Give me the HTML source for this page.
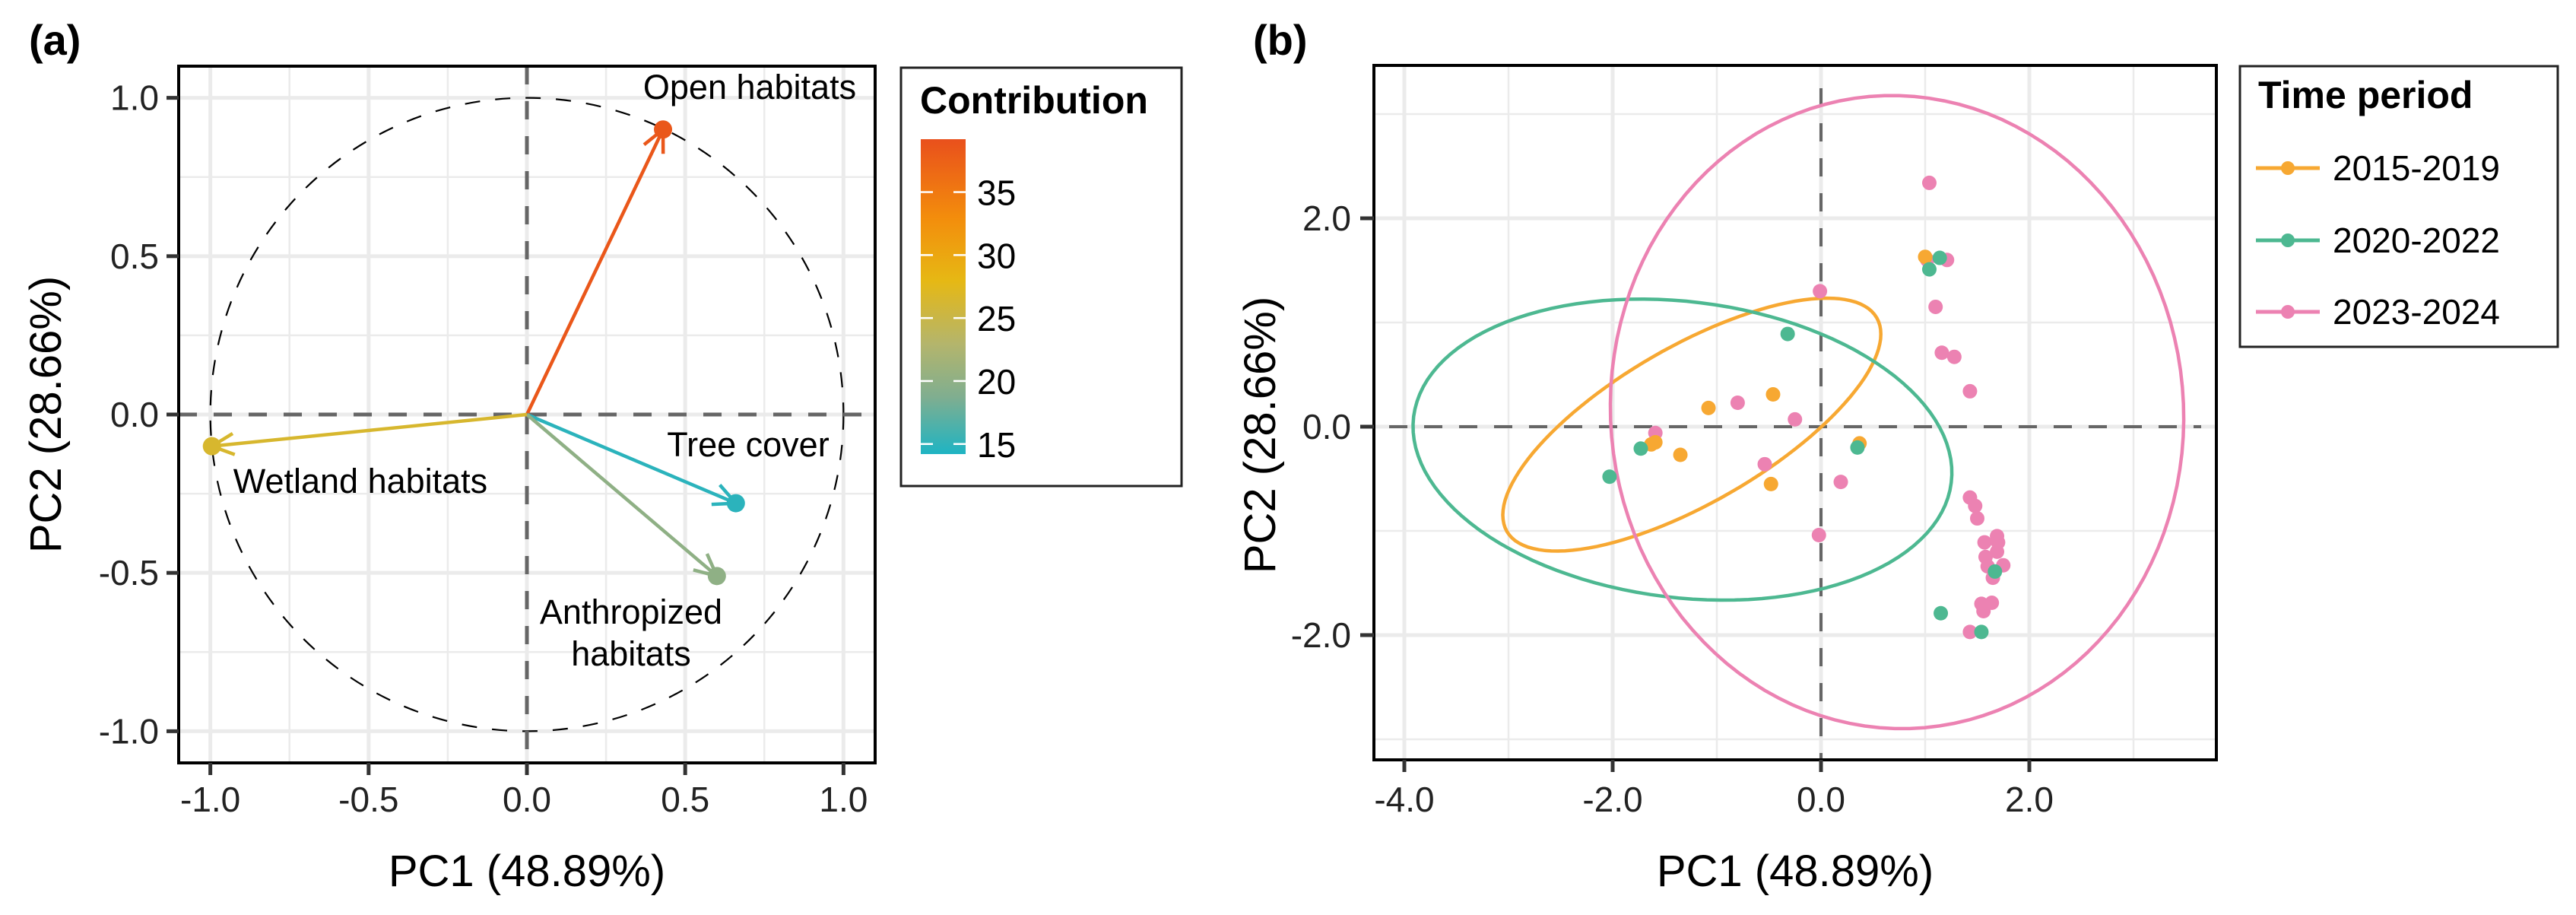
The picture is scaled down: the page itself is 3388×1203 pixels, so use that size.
<!DOCTYPE html>
<html><head><meta charset="utf-8"><style>
html,body{margin:0;padding:0;background:#fff;}
svg{display:block;font-family:"Liberation Sans",Arial,sans-serif;}
</style></head><body>
<svg id="fig" width="3388" height="1203" viewBox="0 0 3388 1203" xmlns="http://www.w3.org/2000/svg">
<defs>
<linearGradient id="contribGrad" x1="0" y1="1" x2="0" y2="0">
<stop offset="0" stop-color="#1EB4C3"/>
<stop offset="0.18" stop-color="#7FAE90"/>
<stop offset="0.35" stop-color="#B4B56C"/>
<stop offset="0.55" stop-color="#E6B814"/>
<stop offset="0.75" stop-color="#F38D0C"/>
<stop offset="1" stop-color="#E9501C"/>
</linearGradient>
<clipPath id="clipA"><rect x="235" y="87" width="916" height="916"/></clipPath>
<clipPath id="clipB"><rect x="1807" y="86" width="1108" height="913"/></clipPath>
</defs>
<g id="panelA"></g>
<g id="panelB"></g>
</svg>
<script>
// ---------- Panel A data ----------
const varNames = ["Open habitats", "Tree cover", "Anthropized habitats", "Wetland habitats"];
const varPC1 = [0.43, 0.66, 0.60, -0.995];
const varPC2 = [0.90, -0.28, -0.51, -0.10];
const varContrib = [38.5, 14.8, 20.0, 26.5];
const aTicks = [-1.0, -0.5, 0.0, 0.5, 1.0];
const aTickLabels = ["-1.0", "-0.5", "0.0", "0.5", "1.0"];
const contribTicks = [15, 20, 25, 30, 35];

// ---------- Panel B data ----------
const groups = ["2015-2019", "2020-2022", "2023-2024"];
const groupColors = ["#F7A832", "#4DB891", "#EC82B2"];
const orangeX = [1.00, -1.08, -0.46, -1.59, -1.63, -1.35, -0.48, 0.37];
const orangeY = [1.63, 0.18, 0.31, -0.15, -0.17, -0.27, -0.55, -0.16];
const greenX = [1.14, 1.04, -0.32, -1.73, -2.03, 0.35, 1.67, 1.15, 1.54];
const greenY = [1.62, 1.51, 0.89, -0.21, -0.48, -0.20, -1.39, -1.79, -1.97];
const pinkX = [1.04, 1.02, 1.21, -0.01, 1.10, 1.16, 1.28, 1.43, -0.80, -0.25, -1.59, -0.54, 0.19, -0.02, 1.43, 1.48, 1.50, 1.57, 1.69, 1.70, 1.58, 1.69, 1.75, 1.60, 1.65, 1.54, 1.64, 1.56, 1.43];
const pinkY = [2.34, 1.60, 1.60, 1.30, 1.15, 0.71, 0.67, 0.34, 0.23, 0.07, -0.06, -0.36, -0.53, -1.04, -0.68, -0.76, -0.88, -1.11, -1.05, -1.11, -1.25, -1.20, -1.33, -1.34, -1.45, -1.70, -1.69, -1.77, -1.97];
// ellipse params: center x, center y, semi-major, semi-minor, angle (deg)
const ellCX = [-1.24, -1.33, 0.73];
const ellCY = [0.02, -0.22, 0.14];
const ellA = [2.05, 2.60, 3.04];
const ellB = [0.75, 1.42, 2.75];
const ellAng = [30, -7, 95];
const bXTicks = [-4, -2, 0, 2];
const bXTickLabels = ["-4.0", "-2.0", "0.0", "2.0"];
const bYTicks = [-2, 0, 2];
const bYTickLabels = ["-2.0", "0.0", "2.0"];

const NS = "http://www.w3.org/2000/svg";
function mk(parent, tag, attrs, text) {
  const e = document.createElementNS(NS, tag);
  for (const k in attrs) e.setAttribute(k, attrs[k]);
  if (text !== undefined) e.textContent = text;
  parent.appendChild(e);
  return e;
}

// ---------- PANEL A ----------
(function () {
  const g = document.getElementById("panelA");
  const L = 235, R = 1151, T = 87, B = 1003;
  const xMin = -1.1, xMax = 1.1, yMin = -1.1, yMax = 1.1;
  const sx = v => L + (v - xMin) / (xMax - xMin) * (R - L);
  const sy = v => B - (v - yMin) / (yMax - yMin) * (B - T);

  const lbl = mk(g, "text", {x: 38, y: 72, "font-size": 56, "font-weight": "bold"}, "(a)");
  
  

  const grid = mk(g, "g", {});
  
  
  for (let v = -1.0; v <= 1.001; v += 0.25) {
    const major = Math.abs(v * 2 - Math.round(v * 2)) < 1e-6;
    const w = major ? 5 : 2.5;
    mk(grid, "line", {x1: sx(v), x2: sx(v), y1: T, y2: B, stroke: "#EBEBEB", "stroke-width": w});
    mk(grid, "line", {x1: L, x2: R, y1: sy(v), y2: sy(v), stroke: "#EBEBEB", "stroke-width": w});
  }
  const cg = mk(g, "g", {"clip-path": "url(#clipA)"});
  const circ = mk(cg, "ellipse", {cx: sx(0), cy: sy(0), rx: sx(1) - sx(0), ry: sy(0) - sy(1), fill: "none", stroke: "#000", "stroke-width": 2.2, "stroke-dasharray": "20 20"});
  
  
  mk(cg, "line", {x1: sx(0), x2: sx(0), y1: T, y2: B, stroke: "#666", "stroke-width": 5, "stroke-dasharray": "24 22"});
  mk(cg, "line", {x1: L, x2: R, y1: sy(0), y2: sy(0), stroke: "#666", "stroke-width": 5, "stroke-dasharray": "24 22"});

  const cMin = 14.2, cMax = 39.2;
  const stops = [[0, [30,180,195]], [0.18, [127,174,144]], [0.35, [180,181,108]], [0.55, [230,184,20]], [0.75, [243,141,12]], [1, [233,80,28]]];
  function colorFor(c) {
    const t = Math.max(0, Math.min(1, (c - cMin) / (cMax - cMin)));
    for (let i = 1; i < stops.length; i++) {
      if (t <= stops[i][0]) {
        const f = (t - stops[i-1][0]) / (stops[i][0] - stops[i-1][0]);
        const a = stops[i-1][1], b = stops[i][1];
        return "rgb(" + a.map((v, k) => Math.round(v + (b[k] - v) * f)).join(",") + ")";
      }
    }
    return "rgb(233,80,28)";
  }
  for (let i = 0; i < varNames.length; i++) {
    const col = colorFor(varContrib[i]);
    const ag = mk(cg, "g", {});
    
    
    const x0 = sx(0), y0 = sy(0), x1 = sx(varPC1[i]), y1 = sy(varPC2[i]);
    mk(ag, "line", {x1: x0, y1: y0, x2: x1, y2: y1, stroke: col, "stroke-width": 4.5});
    const ang = Math.atan2(y1 - y0, x1 - x0);
    [0.45, -0.45].forEach(d => {
      mk(ag, "line", {x1: x1, y1: y1, x2: x1 - 32 * Math.cos(ang + d), y2: y1 - 32 * Math.sin(ang + d), stroke: col, "stroke-width": 4.5});
    });
    mk(ag, "circle", {cx: x1, cy: y1, r: 12, fill: col});
  }
  const labs = [["Open habitats", 986, 130], ["Tree cover", 984, 600], ["Wetland habitats", 474, 648]];
  labs.forEach(l => {
    const t = mk(g, "text", {x: l[1], y: l[2], "font-size": 45, "text-anchor": "middle", fill: "#000"}, l[0]);
    
    
  });
  const an = mk(g, "text", {x: 830, y: 820, "font-size": 45, "text-anchor": "middle"}, "Anthropized");
  
  
  const an2 = mk(g, "text", {x: 830, y: 875, "font-size": 45, "text-anchor": "middle"}, "habitats");
  
  

  const border = mk(g, "rect", {x: L, y: T, width: R - L, height: B - T, fill: "none", stroke: "#000", "stroke-width": 4});
  
  

  aTicks.forEach((v, i) => {
    mk(g, "line", {x1: sx(v), x2: sx(v), y1: B, y2: B + 16, stroke: "#333", "stroke-width": 5});
    const tx = mk(g, "text", {x: sx(v), y: B + 64, "font-size": 46, "text-anchor": "middle", fill: "#222"}, aTickLabels[i]);
    
    
    mk(g, "line", {x1: L - 16, x2: L, y1: sy(v), y2: sy(v), stroke: "#333", "stroke-width": 5});
    const ty = mk(g, "text", {x: L - 26, y: sy(v) + 16, "font-size": 46, "text-anchor": "end", fill: "#222"}, aTickLabels[i]);
    
    
  });
  const xt = mk(g, "text", {x: (L + R) / 2, y: 1165, "font-size": 58, "text-anchor": "middle"}, "PC1 (48.89%)");
  
  
  const yt = mk(g, "text", {x: 0, y: 0, "font-size": 58, "text-anchor": "middle", transform: "translate(80," + ((T + B) / 2) + ") rotate(-90)"}, "PC2 (28.66%)");
  
  

  // legend
  const lg = mk(g, "g", {});
  
  
  mk(lg, "rect", {x: 1185, y: 89, width: 369, height: 550, fill: "#fff", stroke: "#222", "stroke-width": 3});
  mk(lg, "text", {x: 1210, y: 149, "font-size": 50, "font-weight": "bold"}, "Contribution");
  const cbT = 183, cbB = 597;
  const cy = c => cbB - (c - cMin) / (cMax - cMin) * (cbB - cbT);
  const bar = mk(lg, "rect", {x: 1211, y: cbT, width: 59, height: cbB - cbT, fill: "url(#contribGrad)"});
  
  
  contribTicks.forEach(c => {
    mk(lg, "line", {x1: 1254, x2: 1270, y1: cy(c), y2: cy(c), stroke: "#fff", "stroke-width": 2.5});
    mk(lg, "line", {x1: 1211, x2: 1227, y1: cy(c), y2: cy(c), stroke: "#fff", "stroke-width": 2.5});
    mk(lg, "text", {x: 1285, y: cy(c) + 17, "font-size": 46}, String(c));
  });
})();

// ---------- PANEL B ----------
(function () {
  const g = document.getElementById("panelB");
  const L = 1807, R = 2915, T = 86, B = 999;
  const ppu = 137, x0 = 2395, y0 = 561;
  const sx = v => x0 + v * ppu;
  const sy = v => y0 - v * ppu;

  const lbl = mk(g, "text", {x: 1648, y: 72, "font-size": 56, "font-weight": "bold"}, "(b)");
  
  

  const grid = mk(g, "g", {"clip-path": "url(#clipB)"});
  
  
  for (let v = -5; v <= 4; v++) {
    const w = (v % 2 === 0) ? 5 : 2.5;
    mk(grid, "line", {x1: sx(v), x2: sx(v), y1: T, y2: B, stroke: "#EBEBEB", "stroke-width": w});
    mk(grid, "line", {x1: L, x2: R, y1: sy(v), y2: sy(v), stroke: "#EBEBEB", "stroke-width": w});
  }
  const cg = mk(g, "g", {"clip-path": "url(#clipB)"});
  mk(cg, "line", {x1: sx(0), x2: sx(0), y1: T + 30, y2: B, stroke: "#666", "stroke-width": 4, "stroke-dasharray": "24 22"});
  mk(cg, "line", {x1: L + 20, x2: R - 20, y1: sy(0), y2: sy(0), stroke: "#666", "stroke-width": 4, "stroke-dasharray": "24 22"});

  for (let k = 0; k < groups.length; k++) {
    const th = ellAng[k] * Math.PI / 180;
    let d = "";
    for (let i = 0; i <= 120; i++) {
      const t = i / 120 * 2 * Math.PI;
      const ex = ellCX[k] + ellA[k] * Math.cos(t) * Math.cos(th) - ellB[k] * Math.sin(t) * Math.sin(th);
      const ey = ellCY[k] + ellA[k] * Math.cos(t) * Math.sin(th) + ellB[k] * Math.sin(t) * Math.cos(th);
      d += (i ? "L" : "M") + sx(ex).toFixed(1) + "," + sy(ey).toFixed(1);
    }
    const p = mk(cg, "path", {d: d + "Z", fill: "none", stroke: groupColors[k], "stroke-width": 4.5});
    
    
  }
  const series = [[orangeX, orangeY], [greenX, greenY], [pinkX, pinkY]];
  const drawOrder = [2, 0, 1];
  drawOrder.forEach(k => {
    const sg = mk(cg, "g", {});
    
    
    series[k][0].forEach((xv, i) => {
      const c = mk(sg, "circle", {cx: sx(xv), cy: sy(series[k][1][i]), r: 9.5, fill: groupColors[k]});
      
      
    });
  });

  const border = mk(g, "rect", {x: L, y: T, width: R - L, height: B - T, fill: "none", stroke: "#000", "stroke-width": 4});
  
  

  bXTicks.forEach((v, i) => {
    mk(g, "line", {x1: sx(v), x2: sx(v), y1: B, y2: B + 16, stroke: "#333", "stroke-width": 5});
    const tx = mk(g, "text", {x: sx(v), y: B + 68, "font-size": 46, "text-anchor": "middle", fill: "#222"}, bXTickLabels[i]);
    
    
  });
  bYTicks.forEach((v, i) => {
    mk(g, "line", {x1: L - 18, x2: L, y1: sy(v), y2: sy(v), stroke: "#333", "stroke-width": 5});
    const ty = mk(g, "text", {x: L - 30, y: sy(v) + 16, "font-size": 46, "text-anchor": "end", fill: "#222"}, bYTickLabels[i]);
    
    
  });
  const xt = mk(g, "text", {x: (L + R) / 2, y: 1165, "font-size": 58, "text-anchor": "middle"}, "PC1 (48.89%)");
  
  
  const yt = mk(g, "text", {x: 0, y: 0, "font-size": 58, "text-anchor": "middle", transform: "translate(1677,572) rotate(-90)"}, "PC2 (28.66%)");
  
  

  const lg = mk(g, "g", {});
  
  
  mk(lg, "rect", {x: 2946, y: 87, width: 418, height: 369, fill: "#fff", stroke: "#222", "stroke-width": 3});
  mk(lg, "text", {x: 2970, y: 142, "font-size": 50, "font-weight": "bold"}, "Time period");
  const ly = [221, 316, 410];
  groups.forEach((gname, k) => {
    const eg = mk(lg, "g", {});
    
    
    mk(eg, "line", {x1: 2967, x2: 3051, y1: ly[k], y2: ly[k], stroke: groupColors[k], "stroke-width": 5});
    mk(eg, "circle", {cx: 3009, cy: ly[k], r: 9, fill: groupColors[k]});
    mk(eg, "text", {x: 3068, y: ly[k] + 16, "font-size": 46}, gname);
  });
})();
</script>
</body></html>
